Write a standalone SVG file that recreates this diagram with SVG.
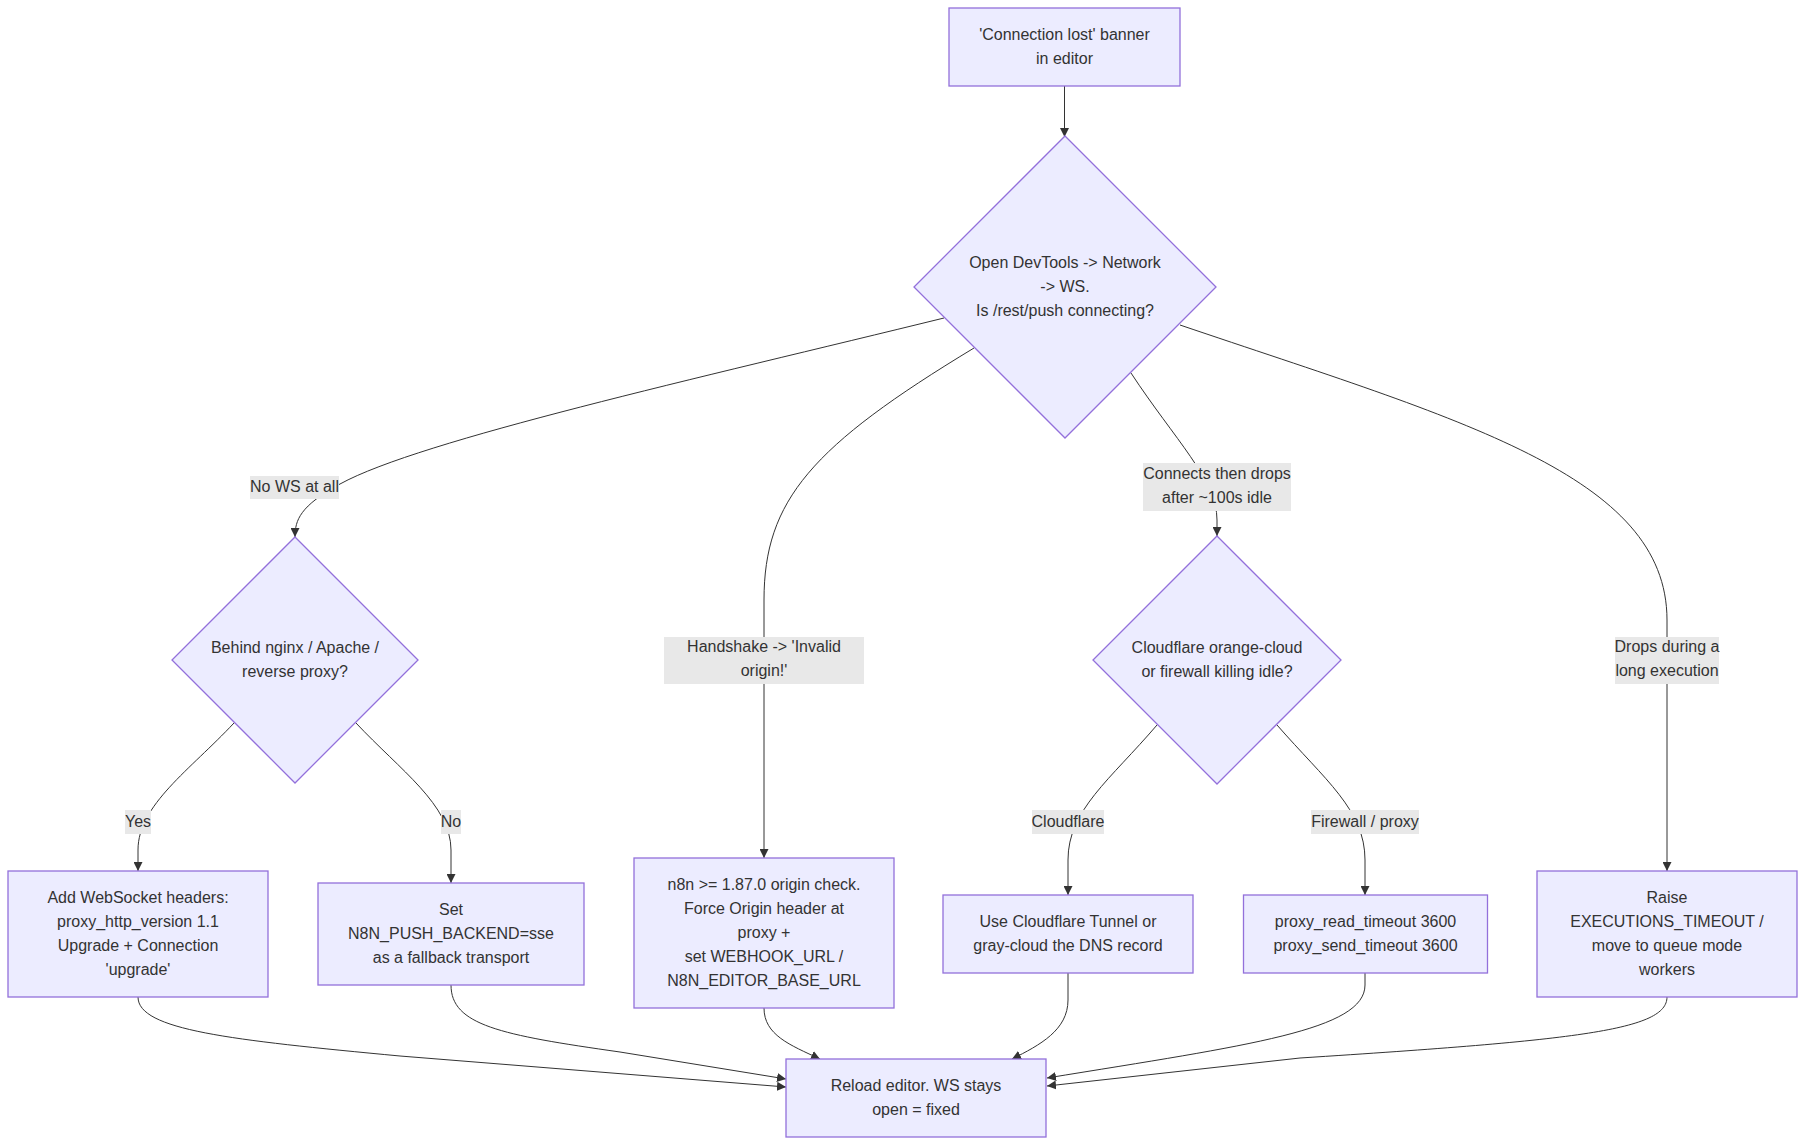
<svg xmlns="http://www.w3.org/2000/svg" width="1805" height="1145" viewBox="0 0 1805 1145">
<defs>
<marker id="arr" viewBox="0 0 10 10" refX="10" refY="5" markerUnits="userSpaceOnUse" markerWidth="9" markerHeight="9" orient="auto">
<path d="M0,0 L10,5 L0,10 z" fill="#333333"/>
</marker>
<style>
.node rect, .node polygon { fill: #ECECFF; stroke: #9370DB; stroke-width: 1.3px; }
.node text, .elabel text { font-family: "Liberation Sans", Arial, sans-serif; font-size: 16px; fill: #333333; text-anchor: middle; }
.edges path { fill: none; stroke: #333333; stroke-width: 1px; }
.edges path.a { marker-end: url(#arr); }
.elabel rect { fill: #e8e8e8; stroke: none; }
</style>
</defs>
<rect width="1805" height="1145" fill="#ffffff"/>

<g id="connectors" class="edges">
<path class="a" d="M1064.5,86 L1064.5,137"/>
<path class="a" d="M944,318 C 700,378 420,440 340,484 C 300,506 295,520 295,537"/>
<path class="a" d="M974,348 C 812,446 764,500 764,600 L764,858"/>
<path class="a" d="M1131,373 C 1175,440 1217,480 1217,520 L1217,536"/>
<path class="a" d="M1180,325 C 1460,420 1667,475 1667,620 L1667,871"/>
<path class="a" d="M234,723 C 190,770 138,805 138,850 L138,871"/>
<path class="a" d="M356,723 C 400,770 451,805 451,850 L451,883"/>
<path class="a" d="M1157,725 C 1110,780 1068,810 1068,860 L1068,895"/>
<path class="a" d="M1277,725 C 1325,780 1365,810 1365,860 L1365,895"/>
<path class="a" d="M138,997 C 138,1030 230,1040 400,1056 L786,1087"/>
<path class="a" d="M451,985 C 451,1025 500,1035 620,1052 L786,1079"/>
<path class="a" d="M764,1008 C 764,1035 790,1045 820,1059"/>
<path class="a" d="M1068,973 L1068,1000 C 1068,1030 1040,1045 1012,1059"/>
<path class="a" d="M1365,973 L1365,985 C 1365,1030 1250,1045 1047,1078"/>
<path class="a" d="M1667,997 C 1667,1030 1580,1040 1300,1058 L1047,1086"/>
</g>

<g id="edge-labels">
<g class="elabel" id="lbl-nows"><rect x="250" y="476" width="89" height="23"/><text x="294.5" y="492">No WS at all</text></g>
<g class="elabel" id="lbl-handshake"><rect x="664" y="637" width="200" height="47"/><text x="764" y="652">Handshake -&gt; 'Invalid</text><text x="764" y="676">origin!'</text></g>
<g class="elabel" id="lbl-connects"><rect x="1143" y="463" width="148" height="48"/><text x="1217" y="479">Connects then drops</text><text x="1217" y="503">after ~100s idle</text></g>
<g class="elabel" id="lbl-drops"><rect x="1615" y="637" width="104" height="47"/><text x="1667" y="652">Drops during a</text><text x="1667" y="676">long execution</text></g>
<g class="elabel" id="lbl-yes"><rect x="125" y="810" width="26" height="24"/><text x="138" y="826.5">Yes</text></g>
<g class="elabel" id="lbl-no"><rect x="441" y="810" width="20" height="24"/><text x="451" y="826.5">No</text></g>
<g class="elabel" id="lbl-cf"><rect x="1032" y="810" width="72" height="24"/><text x="1068" y="826.5">Cloudflare</text></g>
<g class="elabel" id="lbl-fw"><rect x="1311" y="810" width="108" height="24"/><text x="1365" y="826.5">Firewall / proxy</text></g>
</g>

<g id="node-A" class="node"><rect x="949" y="8" width="231" height="78"/><text x="1064.5" y="39.5">'Connection lost' banner</text><text x="1064.5" y="63.5">in editor</text></g>

<g id="node-B" class="node"><polygon points="1065,136 1216,287 1065,438 914,287"/><text x="1065" y="267.5">Open DevTools -&gt; Network</text><text x="1065" y="291.5">-&gt; WS.</text><text x="1065" y="315.5">Is /rest/push connecting?</text></g>

<g id="node-C" class="node"><polygon points="295,537 418,660 295,783 172,660"/><text x="295" y="652.5">Behind nginx / Apache /</text><text x="295" y="676.5">reverse proxy?</text></g>

<g id="node-H" class="node"><polygon points="1217,536 1341,660 1217,784 1093,660"/><text x="1217" y="652.5">Cloudflare orange-cloud</text><text x="1217" y="676.5">or firewall killing idle?</text></g>

<g id="node-D" class="node"><rect x="8" y="871" width="260" height="126"/><text x="138" y="902.5">Add WebSocket headers:</text><text x="138" y="926.5">proxy_http_version 1.1</text><text x="138" y="950.5">Upgrade + Connection</text><text x="138" y="974.5">'upgrade'</text></g>

<g id="node-E" class="node"><rect x="318" y="883" width="266" height="102"/><text x="451" y="914.5">Set</text><text x="451" y="938.5">N8N_PUSH_BACKEND=sse</text><text x="451" y="962.5">as a fallback transport</text></g>

<g id="node-F" class="node"><rect x="634" y="858" width="260" height="150"/><text x="764" y="889.5">n8n &gt;= 1.87.0 origin check.</text><text x="764" y="913.5">Force Origin header at</text><text x="764" y="937.5">proxy +</text><text x="764" y="961.5">set WEBHOOK_URL /</text><text x="764" y="985.5">N8N_EDITOR_BASE_URL</text></g>

<g id="node-G" class="node"><rect x="943" y="895" width="250" height="78"/><text x="1068" y="926.5">Use Cloudflare Tunnel or</text><text x="1068" y="950.5">gray-cloud the DNS record</text></g>

<g id="node-I" class="node"><rect x="1243.5" y="895" width="244" height="78"/><text x="1365.5" y="926.5">proxy_read_timeout 3600</text><text x="1365.5" y="950.5">proxy_send_timeout 3600</text></g>

<g id="node-J" class="node"><rect x="1537" y="871" width="260" height="126"/><text x="1667" y="902.5">Raise</text><text x="1667" y="926.5">EXECUTIONS_TIMEOUT /</text><text x="1667" y="950.5">move to queue mode</text><text x="1667" y="974.5">workers</text></g>

<g id="node-K" class="node"><rect x="786" y="1059" width="260" height="78"/><text x="916" y="1090.5">Reload editor. WS stays</text><text x="916" y="1114.5">open = fixed</text></g>
</svg>
